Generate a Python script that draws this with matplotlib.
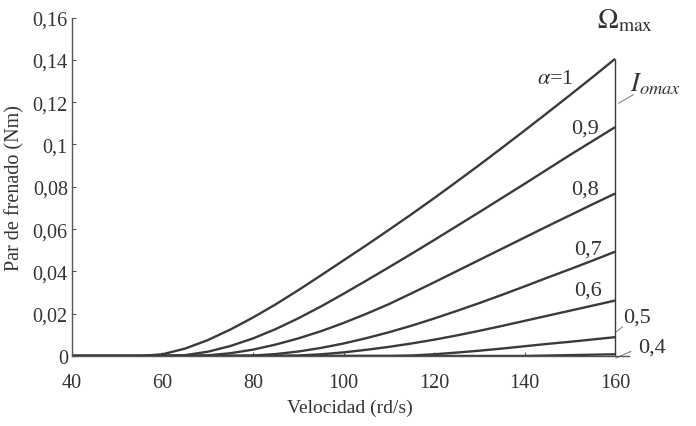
import numpy as np
import matplotlib
matplotlib.use('Agg')
import matplotlib.pyplot as plt

# --datos
velocidad = [40, 45, 50, 55, 60, 65, 70, 75, 80, 85, 90, 95, 100,
             105, 110, 115, 120, 125, 130, 135, 140, 145, 150, 155, 160]
par_a10 = [0, 0, 0, 0, 0.0008, 0.0035, 0.0075, 0.0125, 0.0182, 0.0244, 0.0311, 0.0381, 0.0452,
           0.0523, 0.0596, 0.0670, 0.0746, 0.0824, 0.0903, 0.0984, 0.1066, 0.1149, 0.1233, 0.1318, 0.1405]
par_a09 = [0, 0, 0, 0, 0, 0.0004, 0.002, 0.0047, 0.0083, 0.0127, 0.0178, 0.0234, 0.0294,
           0.0356, 0.0419, 0.0483, 0.0548, 0.0614, 0.068, 0.0747, 0.0814, 0.0882, 0.095, 0.1016, 0.1082]
par_a08 = [0, 0, 0, 0, 0, 0, 0.0003, 0.0013, 0.003, 0.0054, 0.0083, 0.0117, 0.0156,
           0.0199, 0.0245, 0.0296, 0.0348, 0.0401, 0.0454, 0.0507, 0.056, 0.0613, 0.0665, 0.0717, 0.0768]
par_a07 = [0, 0, 0, 0, 0, 0, 0, 0, 0.0002, 0.0009, 0.0021, 0.0038, 0.0059,
           0.0084, 0.0112, 0.0143, 0.0177, 0.0213, 0.025, 0.0289, 0.0329, 0.037, 0.041, 0.0451, 0.0493]
par_a06 = [0, 0, 0, 0, 0, 0, 0, 0, 0, 0, 0.0002, 0.0008, 0.0017,
           0.0029, 0.0043, 0.0059, 0.0077, 0.0097, 0.0119, 0.0142, 0.0166, 0.019, 0.0214, 0.0238, 0.0262]
par_a05 = [0, 0, 0, 0, 0, 0, 0, 0, 0, 0, 0, 0, 0,
           0, 0, 0.0002, 0.0008, 0.0016, 0.0025, 0.0035, 0.0046, 0.0057, 0.0067, 0.0078, 0.0089]
par_a04 = [0, 0, 0, 0, 0, 0, 0, 0, 0, 0, 0, 0, 0,
           0, 0, 0, 0, 0, 0, 0, 0, 0.0002, 0.0004, 0.0006, 0.0008]

curvas = [par_a10, par_a09, par_a08, par_a07, par_a06, par_a05, par_a04]
etiquetas = [r'$\alpha$=1', '0,9', '0,8', '0,7', '0,6', '0,5', '0,4']
yticks = [0, 0.02, 0.04, 0.06, 0.08, 0.1, 0.12, 0.14, 0.16]
ytick_labels = ['0', '0,02', '0,04', '0,06', '0,08', '0,1', '0,12', '0,14', '0,16']
xticks = [40, 60, 80, 100, 120, 140, 160]

plt.rcParams['font.family'] = ['Liberation Serif', 'DejaVu Serif']
plt.rcParams['mathtext.fontset'] = 'stix'

fig = plt.figure(figsize=(6.96, 4.27), dpi=100)
ax = fig.add_axes([0.1034, 0.164, 0.7999, 0.7925])
c = '#3a3a3a'

for yv in curvas:
    ax.plot(velocidad, yv, color=c, lw=1.7, solid_capstyle='butt')
# --linea de Omega max
ax.vlines(velocidad[-1], 0, par_a10[-1], color=c, lw=1.0)

ax.set_xlim(40, 163)
ax.set_ylim(0, 0.16)
ax.set_xticks(xticks)
ax.set_yticks(yticks)
ax.set_yticklabels(ytick_labels)
ax.spines['top'].set_visible(False)
ax.spines['right'].set_visible(False)
for s in ['left', 'bottom']:
    ax.spines[s].set_color('#555555')
    ax.spines[s].set_linewidth(1.0)
ax.tick_params(direction='in', length=3, color='#555555', labelsize=14.5, labelcolor='#333333')
ax.tick_params(axis='x', pad=12)
ax.tick_params(axis='y', pad=3)
ax.set_xlabel('Velocidad (rd/s)', fontsize=14, color='#333333', labelpad=5)
ax.set_ylabel('Par de frenado (Nm)', fontsize=14.5, color='#333333', labelpad=6)

# --textos de las curvas
tk = dict(color='#333333', fontsize=16, clip_on=False, va='center')
ax.text(162.2, 0.1588, r'$\Omega_{\rm max}$', ha='center', fontsize=20, color='#333333', va='center')
ax.text(146.7, 0.1313, etiquetas[0], ha='center', **tk)
ax.text(163.3, 0.129, r'$I_{omax}$', ha='left', color='#333333', fontsize=19, va='center', clip_on=False)
ax.plot([160.8, 164.0], [0.1195, 0.1235], color='#777777', lw=0.7, clip_on=False)
ax.text(153.4, 0.1076, etiquetas[1], ha='center', **tk)
ax.text(153.4, 0.0791, etiquetas[2], ha='center', **tk)
ax.text(154.0, 0.0507, etiquetas[3], ha='center', **tk)
ax.text(154.0, 0.0313, etiquetas[4], ha='center', **tk)
ax.text(164.9, 0.0185, etiquetas[5], ha='center', **tk)
ax.plot([160.2, 161.6], [0.0113, 0.0137], color='#777777', lw=0.7, clip_on=False)
ax.text(168.2, 0.0043, etiquetas[6], ha='center', **tk)
ax.plot([160.2, 163.5], [-0.0010, 0.0022], color='#777777', lw=0.7, clip_on=False)

fig.savefig('out.png', dpi=100)
